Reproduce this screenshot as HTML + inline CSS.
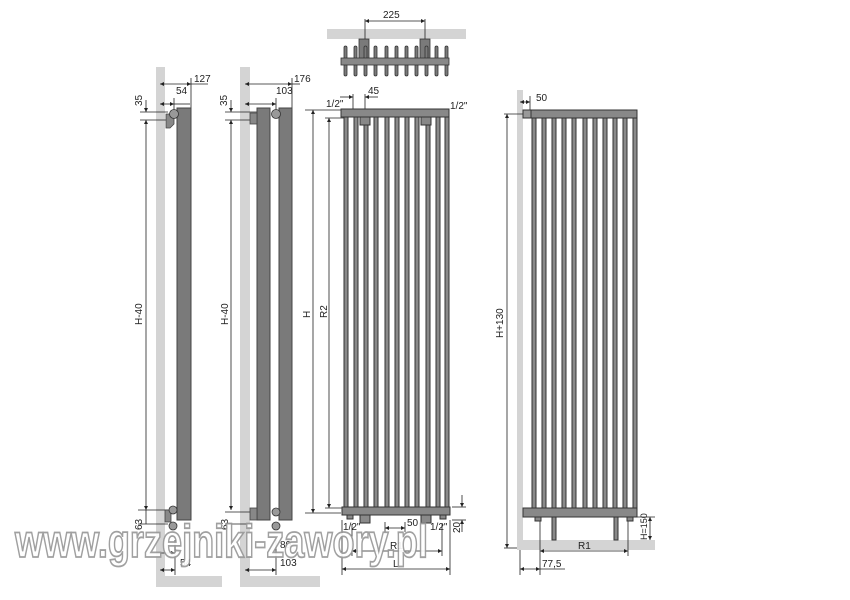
<!DOCTYPE html>
<html><head><meta charset="utf-8"><style>
html,body{margin:0;padding:0;background:#fff;}
svg{display:block}
text{font-family:"Liberation Sans",sans-serif;font-size:10px;fill:#222}
</style></head><body>
<svg width="850" height="600" viewBox="0 0 850 600" xmlns="http://www.w3.org/2000/svg">
<defs>
<marker id="a" viewBox="0 0 6 6" refX="6" refY="3" markerWidth="5" markerHeight="5" orient="auto-start-reverse"><path d="M0,0L6,3L0,6z" fill="#222"/></marker>
</defs>
<g fill="#d4d4d4">
<rect x="156" y="67" width="9" height="520"/>
<rect x="156" y="576" width="66" height="11"/>
<rect x="240" y="67" width="10" height="520"/>
<rect x="240" y="576" width="80" height="11"/>
<rect x="327" y="29" width="139" height="10"/>
<rect x="517" y="90" width="6" height="460"/>
<rect x="517" y="540" width="138" height="10"/>
</g>

<g stroke="#222" stroke-width="0.8" fill="none">
<line x1="160" y1="84" x2="191" y2="84" marker-start="url(#a)" marker-end="url(#a)"/>
<line x1="191" y1="84" x2="208" y2="84"/>
<line x1="160" y1="104" x2="174" y2="104" marker-start="url(#a)" marker-end="url(#a)"/>
<line x1="174" y1="104" x2="190" y2="104"/>
<line x1="191" y1="78" x2="191" y2="108"/>
<line x1="174" y1="98" x2="174" y2="112"/>
<line x1="140" y1="112" x2="168" y2="112"/>
<line x1="140" y1="120" x2="168" y2="120"/>
<line x1="146" y1="100" x2="146" y2="112" marker-end="url(#a)"/>
<line x1="146" y1="120" x2="146" y2="510" marker-start="url(#a)" marker-end="url(#a)"/>
<line x1="138" y1="510" x2="168" y2="510"/>
<line x1="138" y1="524" x2="168" y2="524"/>
<line x1="146" y1="510" x2="146" y2="524"/>
<line x1="160" y1="570" x2="175" y2="570" marker-start="url(#a)" marker-end="url(#a)"/>
<line x1="175" y1="540" x2="175" y2="575"/>
<line x1="160" y1="553" x2="175" y2="553" marker-end="url(#a)"/>
<line x1="245" y1="84" x2="292" y2="84" marker-start="url(#a)" marker-end="url(#a)"/>
<line x1="292" y1="84" x2="300" y2="84"/>
<line x1="245" y1="104" x2="276" y2="104" marker-start="url(#a)" marker-end="url(#a)"/>
<line x1="292" y1="78" x2="292" y2="108"/>
<line x1="276" y1="98" x2="276" y2="112"/>
<line x1="225" y1="112" x2="268" y2="112"/>
<line x1="225" y1="120" x2="252" y2="120"/>
<line x1="231" y1="100" x2="231" y2="112" marker-end="url(#a)"/>
<line x1="231" y1="120" x2="231" y2="510" marker-start="url(#a)" marker-end="url(#a)"/>
<line x1="225" y1="512" x2="252" y2="512"/>
<line x1="225" y1="524" x2="252" y2="524"/>
<line x1="245" y1="570" x2="276" y2="570" marker-start="url(#a)" marker-end="url(#a)"/>
<line x1="276" y1="540" x2="276" y2="575"/>
<line x1="305" y1="110" x2="341" y2="110"/>
<line x1="305" y1="513" x2="341" y2="513"/>
<line x1="313" y1="110" x2="313" y2="513" marker-start="url(#a)" marker-end="url(#a)"/>
<line x1="325" y1="118" x2="346" y2="118"/>
<line x1="325" y1="508" x2="346" y2="508"/>
<line x1="329" y1="118" x2="329" y2="508" marker-start="url(#a)" marker-end="url(#a)"/>
<line x1="353" y1="94" x2="353" y2="112"/>
<line x1="365" y1="94" x2="365" y2="112"/>
<line x1="340" y1="97" x2="353" y2="97" marker-end="url(#a)"/>
<line x1="378" y1="97" x2="365" y2="97" marker-end="url(#a)"/>
<line x1="365" y1="19" x2="365" y2="40"/>
<line x1="425" y1="19" x2="425" y2="40"/>
<line x1="365" y1="21" x2="425" y2="21" marker-start="url(#a)" marker-end="url(#a)"/>
<line x1="342" y1="520" x2="342" y2="575"/>
<line x1="450" y1="520" x2="450" y2="575"/>
<line x1="342" y1="569" x2="450" y2="569" marker-start="url(#a)" marker-end="url(#a)"/>
<line x1="352" y1="524" x2="352" y2="556"/>
<line x1="442" y1="524" x2="442" y2="556"/>
<line x1="352" y1="551" x2="442" y2="551" marker-start="url(#a)" marker-end="url(#a)"/>
<line x1="385" y1="522" x2="385" y2="532"/>
<line x1="405" y1="522" x2="405" y2="532"/>
<line x1="385" y1="528" x2="405" y2="528" marker-start="url(#a)" marker-end="url(#a)"/>
<line x1="452" y1="507" x2="466" y2="507"/>
<line x1="452" y1="520" x2="466" y2="520"/>
<line x1="462" y1="495" x2="462" y2="507" marker-end="url(#a)"/>
<line x1="462" y1="532" x2="462" y2="520" marker-end="url(#a)"/>
<line x1="520" y1="102" x2="530" y2="102" marker-start="url(#a)" marker-end="url(#a)"/>
<line x1="530" y1="96" x2="530" y2="112"/>
<line x1="504" y1="114" x2="523" y2="114"/>
<line x1="504" y1="548" x2="517" y2="548"/>
<line x1="507" y1="114" x2="507" y2="548" marker-start="url(#a)" marker-end="url(#a)"/>
<line x1="540" y1="520" x2="540" y2="575"/>
<line x1="520" y1="550" x2="520" y2="575"/>
<line x1="540" y1="551" x2="628" y2="551" marker-start="url(#a)" marker-end="url(#a)"/>
<line x1="628" y1="520" x2="628" y2="556"/>
<line x1="520" y1="569" x2="540" y2="569" marker-start="url(#a)" marker-end="url(#a)"/>
<line x1="540" y1="569" x2="565" y2="569"/>
<line x1="630" y1="517" x2="655" y2="517"/>
<line x1="650" y1="517" x2="650" y2="540" marker-start="url(#a)" marker-end="url(#a)"/>
</g>

<rect x="177" y="108" width="14" height="412" fill="#7a7a7a" stroke="#444" stroke-width="1"/>
<path d="M166,114h8v10l-4,4h-4z" fill="#888" stroke="#444" stroke-width="0.8"/>
<circle cx="174" cy="114" r="4.5" fill="#999" stroke="#333" stroke-width="0.8"/>
<rect x="165" y="510" width="6" height="12" fill="#888" stroke="#444" stroke-width="0.8"/>
<circle cx="173" cy="510" r="4" fill="#999" stroke="#333" stroke-width="0.8"/>
<circle cx="173" cy="526" r="4" fill="#999" stroke="#333" stroke-width="0.8"/>
<rect x="257" y="108" width="13" height="412" fill="#7a7a7a" stroke="#444"/>
<rect x="279" y="108" width="13" height="412" fill="#7a7a7a" stroke="#444"/>
<rect x="250" y="113" width="7" height="11" fill="#888" stroke="#444" stroke-width="0.8"/>
<circle cx="276" cy="114" r="4.5" fill="#999" stroke="#333" stroke-width="0.8"/>
<rect x="250" y="508" width="7" height="12" fill="#888" stroke="#444" stroke-width="0.8"/>
<circle cx="276" cy="512" r="4" fill="#999" stroke="#333" stroke-width="0.8"/>
<circle cx="276" cy="526" r="4" fill="#999" stroke="#333" stroke-width="0.8"/>

<g fill="#7a7a7a" stroke="#333" stroke-width="0.8">
<rect x="359" y="39" width="10" height="20"/><rect x="420" y="39" width="10" height="20"/>
<rect x="344" y="46" width="3" height="30" rx="1.5"/><rect x="354" y="46" width="3" height="30" rx="1.5"/><rect x="364" y="46" width="3" height="30" rx="1.5"/><rect x="374" y="46" width="3" height="30" rx="1.5"/><rect x="385" y="46" width="3" height="30" rx="1.5"/><rect x="395" y="46" width="3" height="30" rx="1.5"/><rect x="405" y="46" width="3" height="30" rx="1.5"/><rect x="415" y="46" width="3" height="30" rx="1.5"/><rect x="425" y="46" width="3" height="30" rx="1.5"/><rect x="435" y="46" width="3" height="30" rx="1.5"/><rect x="445" y="46" width="3" height="30" rx="1.5"/>
<rect x="341" y="58" width="108" height="7" fill="#888"/>
</g>

<g fill="#8a8a8a" stroke="#333" stroke-width="1">
<rect x="344" y="110" width="4" height="400"/><rect x="354" y="110" width="4" height="400"/><rect x="364" y="110" width="4" height="400"/><rect x="374" y="110" width="4" height="400"/><rect x="385" y="110" width="4" height="400"/><rect x="395" y="110" width="4" height="400"/><rect x="405" y="110" width="4" height="400"/><rect x="415" y="110" width="4" height="400"/><rect x="426" y="110" width="4" height="400"/><rect x="436" y="110" width="4" height="400"/><rect x="445" y="110" width="4" height="400"/>
<rect x="341" y="109" width="108" height="8" fill="#888"/>
<rect x="360" y="117" width="10" height="8" fill="#888"/><rect x="421" y="117" width="10" height="8" fill="#888"/>
<rect x="342" y="507" width="108" height="8" fill="#888"/>
<rect x="347" y="515" width="6" height="4"/><rect x="440" y="515" width="6" height="4"/>
<rect x="360" y="515" width="10" height="8"/><rect x="421" y="515" width="10" height="8"/>
</g>

<g fill="#8a8a8a" stroke="#333" stroke-width="1">
<rect x="532" y="112" width="4" height="398"/><rect x="542" y="112" width="4" height="398"/><rect x="552" y="112" width="4" height="398"/><rect x="562" y="112" width="4" height="398"/><rect x="572" y="112" width="4" height="398"/><rect x="583" y="112" width="4" height="398"/><rect x="593" y="112" width="4" height="398"/><rect x="603" y="112" width="4" height="398"/><rect x="613" y="112" width="4" height="398"/><rect x="623" y="112" width="4" height="398"/><rect x="633" y="112" width="4" height="398"/>
<rect x="523" y="110" width="114" height="8" fill="#888"/>
<rect x="523" y="110" width="8" height="8" fill="#999"/>
<rect x="523" y="508" width="114" height="9" fill="#888"/>
<rect x="535" y="517" width="6" height="4"/><rect x="627" y="517" width="6" height="4"/>
<rect x="552" y="517" width="4" height="23"/><rect x="614" y="517" width="4" height="23"/>
</g>

<text x="194" y="82">127</text>
<text x="176" y="94">54</text>
<text x="294" y="82">176</text>
<text x="276" y="94">103</text>
<text x="326" y="107">1/2"</text>
<text x="368" y="94">45</text>
<text x="450" y="109">1/2"</text>
<text x="383" y="18">225</text>
<text x="536" y="101">50</text>
<text transform="translate(142,106) rotate(-90)">35</text>
<text transform="translate(227,106) rotate(-90)">35</text>
<text transform="translate(142,325) rotate(-90)">H-40</text>
<text transform="translate(228,325) rotate(-90)">H-40</text>
<text transform="translate(310,318) rotate(-90)">H</text>
<text transform="translate(327,318) rotate(-90)">R2</text>
<text transform="translate(503,338) rotate(-90)">H+130</text>
<text transform="translate(142,530) rotate(-90)">63</text>
<text transform="translate(228,530) rotate(-90)">63</text>
<text transform="translate(460,533) rotate(-90)">20</text>
<text transform="translate(647,540) rotate(-90)" style="font-size:9px">H=150</text>
<text x="180" y="566">54</text>
<text x="280" y="566">103</text>
<text x="343" y="530">1/2"</text>
<text x="430" y="530">1/2"</text>
<text x="407" y="526">50</text>
<text x="390" y="549">R1</text>
<text x="393" y="567">L</text>
<text x="578" y="549">R1</text>
<text x="542" y="567">77,5</text>
<text x="280" y="548">80</text>
<text x="15" y="557" textLength="413" lengthAdjust="spacingAndGlyphs" style="font-size:46px;font-weight:bold;fill:#fff;stroke:#999;stroke-width:1.8;opacity:0.92">www.grzejniki-zawory.pl</text>
</svg>
</body></html>
